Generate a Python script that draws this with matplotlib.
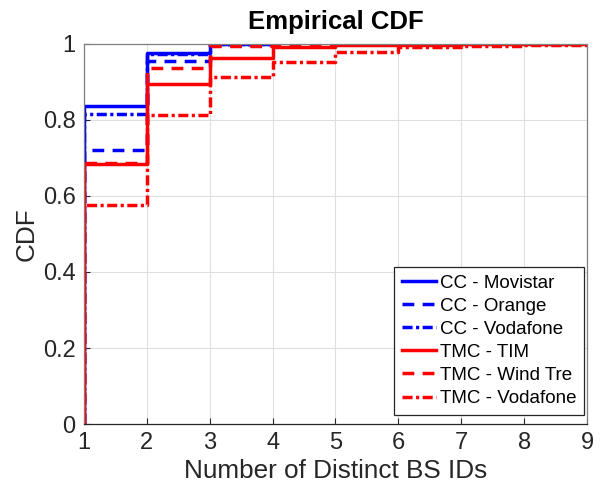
import matplotlib
matplotlib.use("Agg")
import matplotlib.pyplot as plt
import numpy as np

plt.rcParams['font.family'] = ['Liberation Sans', 'DejaVu Sans']

# Data: CDF level on each interval [k, k+1) starting at k=1
labels = ["CC - Movistar", "CC - Orange", "CC - Vodafone",
          "TMC - TIM", "TMC - Wind Tre", "TMC - Vodafone"]
cc_movistar = [0.838, 0.977, 0.999]
cc_orange = [0.721, 0.955, 0.999]
cc_vodafone = [0.816, 0.974, 0.999]
tmc_tim = [0.684, 0.896, 0.962, 0.993, 0.997, 0.998, 0.999, 0.999]
tmc_windtre = [0.686, 0.938, 0.996, 0.998, 0.999, 0.999, 0.999, 0.999]
tmc_vodafone = [0.575, 0.813, 0.912, 0.953, 0.979, 0.991, 0.995, 0.997]
series = [cc_movistar, cc_orange, cc_vodafone, tmc_tim, tmc_windtre, tmc_vodafone]
colors = ['#0000ff', '#0000ff', '#0000ff', '#ff0000', '#ff0000', '#ff0000']
dash = (0, (3.4, 2.4))
dashdot = (0, (2.9, 1.0, 0.9, 1.0))
styles = ['-', dash, dashdot, '-', dash, dashdot]
xticks = [1, 2, 3, 4, 5, 6, 7, 8, 9]
yticks = [0, 0.2, 0.4, 0.6, 0.8, 1]
ytick_labels = ['0', '0.2', '0.4', '0.6', '0.8', '1']

fig = plt.figure(figsize=(6.02, 4.92), dpi=100)
ax = fig.add_axes([0.1395, 0.1382, 0.8355, 0.7724])

axc = '#262626'
for lev, c, ls, lab in zip(series, colors, styles, labels):
    n = len(lev)
    xs = [1] + [1 + i for i in range(n)] + [n + 1]
    ys = [0] + list(lev) + [1.0]
    ax.step(xs, ys, where='post', color=c, linestyle=ls, linewidth=2.5, label=lab)

ax.set_xlim(1, 9)
ax.set_ylim(0, 1)
ax.set_xticks(xticks)
ax.set_yticks(yticks)
ax.set_yticklabels(ytick_labels)
ax.grid(True, color='#dfdfdf', linewidth=0.8)
ax.set_axisbelow(True)
ax.tick_params(direction='in', length=4, width=0.8, colors=axc, labelsize=17,
               top=False, right=False, pad=6)
for s in ax.spines.values():
    s.set_color('#7f7f7f')
    s.set_linewidth(0.9)
ax.spines['bottom'].set_color(axc)

ax.set_xlabel('Number of Distinct BS IDs', fontsize=18.8, color=axc, labelpad=3)
ax.set_ylabel('CDF', fontsize=18.8, color=axc, labelpad=3)
ax.set_title('Empirical CDF', fontsize=18.5, fontweight='bold', color='black', pad=11)

leg = ax.legend(loc='lower right', bbox_to_anchor=(584 / 602, (492 - 415) / 492),
                bbox_transform=fig.transFigure,
                fontsize=13.5, frameon=True, fancybox=False,
                edgecolor=axc, framealpha=1, handlelength=1.8, handletextpad=0.2,
                labelspacing=0.32, borderpad=0.42, borderaxespad=0.0)
leg.get_frame().set_linewidth(0.9)
for t in leg.get_texts():
    t.set_color('black')

fig.savefig('out.png', dpi=100)
